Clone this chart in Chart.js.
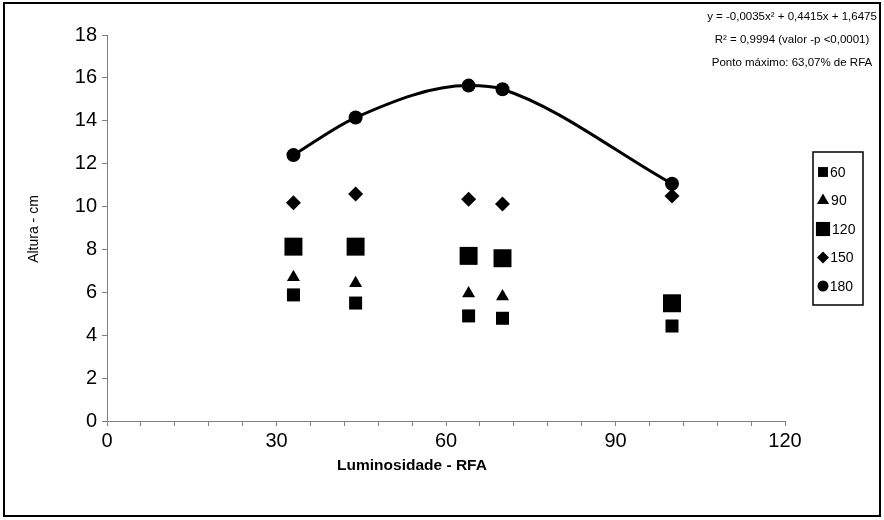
<!DOCTYPE html>
<html>
<head>
<meta charset="utf-8">
<script src="https://cdn.jsdelivr.net/npm/chart.js@4.4.1/dist/chart.umd.min.js"></script>
<style>
  body { margin: 0; background: #fff; }
  canvas { display: block; }
</style>
</head>
<body>
<canvas id="chart" width="884" height="520"></canvas>
<script>
// Luminosidade (% RFA) e altura das plantas (cm) por idade
const rfa = [33, 44, 64, 70, 100];
const alt60 = [5.88, 5.50, 4.90, 4.79, 4.43];
const alt90 = [6.70, 6.42, 5.94, 5.81, 5.30];
const alt120 = [8.13, 8.13, 7.70, 7.59, 5.49];
const alt150 = [10.18, 10.59, 10.34, 10.12, 10.49];
const alt180 = [12.40, 14.15, 15.64, 15.47, 11.06];
const seriesLabels = ['60', '90', '120', '150', '180'];
const xMajorTicks = [0, 30, 60, 90, 120];
const eqLines = [
  'y = -0,0035x\u00b2 + 0,4415x + 1,6475',
  'R\u00b2 = 0,9994 (valor -p <0,0001)',
  'Ponto m\u00e1ximo: 63,07% de RFA'
];

Chart.defaults.font.family = '"Liberation Sans", Arial, sans-serif';
Chart.defaults.color = '#000';

function pts(ys) {
  return rfa.map((x, i) => ({ x: x, y: ys[i] }));
}

// marcadores (estilo, raio no gráfico, raio na legenda)
const markers = [
  { style: 'rect', r: 9.2, lr: 7 },
  { style: 'triangle', r: 7.5, lr: 7 },
  { style: 'rect', r: 12.7, lr: 10 },
  { style: 'rectRot', r: 7.5, lr: 6 },
  { style: 'circle', r: 7, lr: 5.5 }
];
const allSeries = [alt60, alt90, alt120, alt150, alt180];
const drawOrder = [2, 1, 0, 3, 4];

const datasets = allSeries.map((ys, i) => ({
  label: seriesLabels[i],
  data: pts(ys),
  pointStyle: markers[i].style,
  pointRadius: markers[i].r,
  pointHoverRadius: markers[i].r,
  pointBackgroundColor: '#000',
  pointBorderColor: '#000',
  pointBorderWidth: 0,
  borderColor: '#000',
  borderWidth: 3,
  showLine: i === 4,
  cubicInterpolationMode: 'monotone',
  order: drawOrder[i]
}));

const decor = {
  id: 'decor',
  beforeDraw(chart) {
    const ctx = chart.ctx;
    ctx.save();
    ctx.fillStyle = '#fff';
    ctx.fillRect(0, 0, chart.width, chart.height);
    ctx.restore();
  },
  afterDraw(chart) {
    const ctx = chart.ctx;
    ctx.save();
    // moldura externa
    ctx.strokeStyle = '#000';
    ctx.lineWidth = 2;
    ctx.strokeRect(4, 3, 876, 513);

    // títulos dos eixos
    ctx.fillStyle = '#000';
    ctx.textAlign = 'center';
    ctx.textBaseline = 'middle';
    ctx.font = 'bold 15.5px "Liberation Sans", Arial, sans-serif';
    ctx.fillText('Luminosidade - RFA', 412, 466);
    ctx.save();
    ctx.translate(34, 229);
    ctx.rotate(-Math.PI / 2);
    ctx.font = '14px "Liberation Sans", Arial, sans-serif';
    ctx.fillText('Altura - cm', 0, 0);
    ctx.restore();

    // equação
    ctx.font = '11.5px "Liberation Sans", Arial, sans-serif';
    eqLines.forEach((t, i) => ctx.fillText(t, 792, 17 + i * 23));

    // legenda
    const lx = 813, ly = 152, lw = 50, lh = 153;
    ctx.lineWidth = 1.5;
    ctx.strokeRect(lx, ly, lw, lh);
    ctx.textAlign = 'left';
    ctx.font = '14px "Liberation Sans", Arial, sans-serif';
    seriesLabels.forEach((lab, i) => {
      const m = markers[i];
      const cy = ly + 20 + i * 28.5;
      const cx = lx + 10;
      ctx.fillStyle = '#000';
      Chart.helpers.drawPoint(ctx, { pointStyle: m.style, radius: m.lr, rotation: 0, borderWidth: 0 }, cx, cy);
      const half = m.style === 'rect' ? m.lr * Math.SQRT1_2 : m.lr * 0.87;
      ctx.fillText(lab, cx + half + 2, cy + 1);
    });
    ctx.restore();
  }
};

new Chart(document.getElementById('chart'), {
  type: 'scatter',
  data: { datasets: datasets },
  options: {
    responsive: false,
    animation: false,
    events: [],
    layout: { padding: { top: 35, right: 99, left: 0, bottom: 0 } },
    plugins: { legend: { display: false }, tooltip: { enabled: false } },
    scales: {
      x: {
        type: 'linear',
        min: 0,
        max: 120,
        afterFit: s => { s.height = 99; },
        ticks: {
          stepSize: 6,
          autoSkip: false,
          maxRotation: 0,
          padding: 3,
          font: { size: 20 },
          callback: v => xMajorTicks.includes(v) ? String(v) : ''
        },
        grid: { drawOnChartArea: false, drawTicks: true, tickLength: 5, color: '#808080' },
        border: { color: '#808080', width: 1 }
      },
      y: {
        min: 0,
        max: 18,
        afterFit: s => { s.width = 107; },
        ticks: { stepSize: 2, padding: 5, font: { size: 20 } },
        grid: { drawOnChartArea: false, drawTicks: true, tickLength: 5, color: '#808080' },
        border: { color: '#808080', width: 1 }
      }
    }
  },
  plugins: [decor]
});
</script>
</body>
</html>
